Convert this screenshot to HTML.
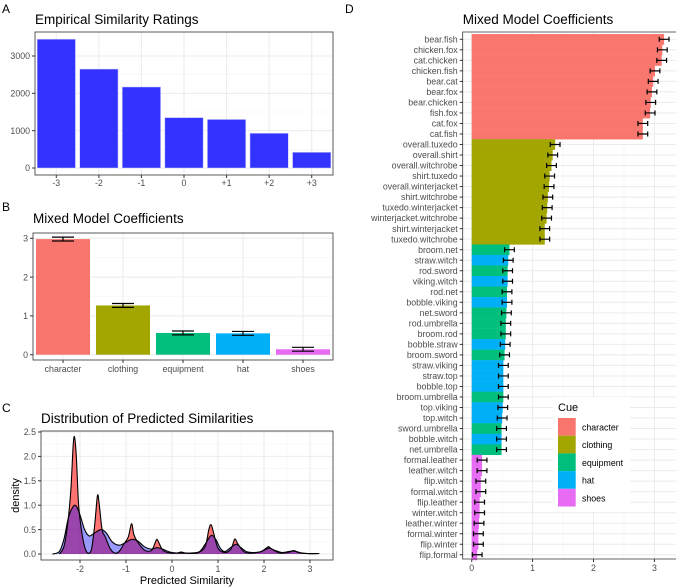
<!DOCTYPE html>
<html><head><meta charset="utf-8">
<style>
html,body{margin:0;padding:0;background:#fff;}
svg{display:block;font-family:"Liberation Sans",sans-serif;}
</style></head>
<body>
<svg id="fig" width="677" height="587" viewBox="0 0 677 587" xmlns="http://www.w3.org/2000/svg"></svg>
<script>
// ---- Panel A data ----
const aCategories = ["-3","-2","-1","0","+1","+2","+3"];
const aCounts = [3450, 2650, 2170, 1350, 1300, 930, 420];
const aTicks = [0, 1000, 2000, 3000];
// ---- Panel B data ----
const bCategories = ["character","clothing","equipment","hat","shoes"];
const bValues = [2.98, 1.27, 0.56, 0.55, 0.14];
const bErrors = [0.05, 0.05, 0.05, 0.05, 0.05];
const bTicks = [0, 1, 2, 3];
// ---- Panel C data ----
const cRedX = [-2.45,-2.35,-2.27,-2.2,-2.15,-2.12,-2.08,-2.03,-1.97,-1.9,-1.83,-1.75,-1.68,-1.62,-1.58,-1.52,-1.45,-1.35,-1.25,-1.15,-1.05,-0.95,-0.88,-0.83,-0.75,-0.6,-0.45,-0.37,-0.33,-0.28,-0.2,-0.05,0.1,0.2,0.3,0.55,0.72,0.8,0.85,0.9,1.0,1.15,1.28,1.35,1.38,1.45,1.6,1.9,2.05,2.1,2.17,2.35,2.55,2.65,2.75,2.95,3.2];
const cRedY = [0,0.15,0.6,1.3,2.2,2.4,2.0,1.0,0.5,0.15,0.02,0.1,0.6,1.2,1.0,0.5,0.35,0.12,0.02,0.05,0.2,0.35,0.62,0.4,0.25,0.08,0.07,0.22,0.3,0.22,0.08,0.02,0.02,0.04,0.02,0.02,0.15,0.5,0.6,0.45,0.12,0.03,0.1,0.28,0.3,0.18,0.03,0.04,0.12,0.15,0.1,0.02,0.04,0.07,0.03,0.01,0.01];
const cBlueX = [-2.6,-2.45,-2.35,-2.25,-2.15,-2.08,-2.0,-1.9,-1.8,-1.7,-1.6,-1.52,-1.42,-1.3,-1.15,-1.0,-0.88,-0.75,-0.6,-0.45,-0.33,-0.2,-0.05,0.1,0.2,0.4,0.6,0.72,0.85,0.95,1.05,1.15,1.3,1.4,1.5,1.65,1.9,2.05,2.12,2.25,2.4,2.6,2.7,2.9,3.2];
const cBlueY = [0,0.05,0.3,0.75,0.97,0.98,0.8,0.5,0.37,0.42,0.48,0.5,0.42,0.25,0.18,0.24,0.3,0.27,0.15,0.1,0.13,0.1,0.04,0.02,0.02,0.02,0.05,0.2,0.38,0.3,0.12,0.05,0.15,0.2,0.13,0.04,0.04,0.1,0.12,0.07,0.03,0.06,0.05,0.01,0.01];
const cXTicks = [-2,-1,0,1,2,3];
const cYTicks = [0,0.5,1,1.5,2,2.5];
const cYTickLabels = ["0.0","0.5","1.0","1.5","2.0","2.5"];
// ---- Panel D data ----
const dLabels = ["bear.fish","chicken.fox","cat.chicken","chicken.fish","bear.cat","bear.fox","bear.chicken","fish.fox","cat.fox","cat.fish",
"overall.tuxedo","overall.shirt","overall.witchrobe","shirt.tuxedo","overall.winterjacket","shirt.witchrobe","tuxedo.winterjacket","winterjacket.witchrobe","shirt.winterjacket","tuxedo.witchrobe",
"broom.net","straw.witch","rod.sword","viking.witch","rod.net","bobble.viking","net.sword","rod.umbrella","broom.rod","bobble.straw","broom.sword","straw.viking","straw.top","bobble.top","broom.umbrella","top.viking","top.witch","sword.umbrella","bobble.witch","net.umbrella",
"formal.leather","leather.witch","flip.witch","formal.witch","flip.leather","winter.witch","leather.winter","formal.winter","flip.winter","flip.formal"];
const dValues = [3.16,3.13,3.12,3.01,2.98,2.96,2.94,2.93,2.81,2.81,
1.37,1.33,1.31,1.28,1.27,1.25,1.24,1.23,1.20,1.20,
0.62,0.60,0.59,0.59,0.58,0.58,0.57,0.56,0.56,0.55,0.54,0.52,0.52,0.52,0.52,0.51,0.50,0.49,0.49,0.49,
0.17,0.17,0.15,0.15,0.13,0.13,0.12,0.11,0.11,0.09];
const dErrors = new Array(50).fill(0.08);
const dCues = ["character","character","character","character","character","character","character","character","character","character",
"clothing","clothing","clothing","clothing","clothing","clothing","clothing","clothing","clothing","clothing",
"equipment","hat","equipment","hat","equipment","hat","equipment","equipment","equipment","hat","equipment","hat","hat","hat","equipment","hat","hat","equipment","hat","equipment",
"shoes","shoes","shoes","shoes","shoes","shoes","shoes","shoes","shoes","shoes"];
const dTicks = [0,1,2,3];
const cueNames = ["character","clothing","equipment","hat","shoes"];
const cueColors = {character:"#F8766D",clothing:"#A3A500",equipment:"#00BF7D",hat:"#00B0F6",shoes:"#E76BF3"};

const NS="http://www.w3.org/2000/svg";
const svg=document.getElementById('fig');
function mk(tag,attrs,parent){const e=document.createElementNS(NS,tag);for(const k in attrs)e.setAttribute(k,attrs[k]);(parent||svg).appendChild(e);return e;}
function txt(s,x,y,attrs,parent){const e=mk('text',Object.assign({x:x,y:y},attrs),parent);e.textContent=s;return e;}
const AX="#4D4D4D", GRID="#EBEBEB", GRIDMIN="#F4F4F4";

// ========== Panel A ==========
{
const L=35,R=333,T=32,B=175, y0=168, yk=(168-56)/3000;
const ys=v=>y0-v*yk; const step=(R-L)/aCategories.length; const xs=i=>L+step*(i+0.5);
const g=mk('g',{});


const t0=txt('A',2,13,{'font-size':12,fill:'#000'},g);

const t1=txt('Empirical Similarity Ratings',35,24,{'font-size':13.5,fill:'#000'},g);

for(let v=500;v<3500;v+=1000){mk('line',{x1:L,x2:R,y1:ys(v),y2:ys(v),stroke:GRIDMIN,'stroke-width':0.6},g);}
aTicks.forEach(v=>{mk('line',{x1:L,x2:R,y1:ys(v),y2:ys(v),stroke:GRID,'stroke-width':1},g);
 const t=txt(String(v),L-5,ys(v)+3.2,{'font-size':8.8,fill:AX,'text-anchor':'end'},g);
 
 mk('line',{x1:L-3,x2:L,y1:ys(v),y2:ys(v),stroke:'#333'},g);});
aCategories.forEach((c,i)=>{mk('line',{x1:xs(i),x2:xs(i),y1:T,y2:B,stroke:GRID},g);});
aCategories.forEach((c,i)=>{
 const r=mk('rect',{x:xs(i)-step*0.45,y:ys(aCounts[i]),width:step*0.9,height:ys(0)-ys(aCounts[i]),fill:'#3333FF',stroke:'#ccccff','stroke-width':0.5},g);
 
 mk('line',{x1:xs(i),x2:xs(i),y1:B,y2:B+3,stroke:'#333'},g);
 const t=txt(c,xs(i),B+11,{'font-size':8.8,fill:AX,'text-anchor':'middle'},g);
 
});
mk('rect',{x:L,y:T,width:R-L,height:B-T,fill:'none',stroke:'#333','stroke-width':0.8},g);
}

// ========== Panel B ==========
{
const L=33,R=333,T=233,B=360, y0=354.7, yk=(354.7-238.3)/3;
const ys=v=>y0-v*yk; const step=(R-L)/bCategories.length; const xs=i=>L+step*(i+0.5);
const g=mk('g',{});


const t0=txt('B',2,211,{'font-size':12,fill:'#000'},g);

const t1=txt('Mixed Model Coefficients',33,223,{'font-size':13.5,fill:'#000'},g);

for(let v=0.5;v<3.1;v+=1){mk('line',{x1:L,x2:R,y1:ys(v),y2:ys(v),stroke:GRIDMIN,'stroke-width':0.6},g);}
bTicks.forEach(v=>{mk('line',{x1:L,x2:R,y1:ys(v),y2:ys(v),stroke:GRID},g);
 const t=txt(String(v),L-5,ys(v)+3.2,{'font-size':8.8,fill:AX,'text-anchor':'end'},g);
 
 mk('line',{x1:L-3,x2:L,y1:ys(v),y2:ys(v),stroke:'#333'},g);});
bCategories.forEach((c,i)=>{mk('line',{x1:xs(i),x2:xs(i),y1:T,y2:B,stroke:GRID},g);});
bCategories.forEach((c,i)=>{
 const r=mk('rect',{x:xs(i)-step*0.45,y:ys(bValues[i]),width:step*0.9,height:ys(0)-ys(bValues[i]),fill:cueColors[c]},g);
 
 const hi=ys(bValues[i]+bErrors[i]), lo=ys(bValues[i]-bErrors[i]), w=11;
 const eb=mk('path',{d:`M${xs(i)-w},${hi}H${xs(i)+w}M${xs(i)-w},${lo}H${xs(i)+w}M${xs(i)},${hi}V${lo}`,stroke:'#000','stroke-width':1.2,fill:'none'},g);
 
 mk('line',{x1:xs(i),x2:xs(i),y1:B,y2:B+3,stroke:'#333'},g);
 const t=txt(c,xs(i),B+12,{'font-size':8.8,fill:AX,'text-anchor':'middle'},g);
 
});
mk('rect',{x:L,y:T,width:R-L,height:B-T,fill:'none',stroke:'#333','stroke-width':0.8},g);
}

// ========== Panel C ==========
{
const L=41,R=333,T=431,B=560, y0=554, yk=(554-432)/2.5, x0=172, xk=46;
const ys=v=>y0-v*yk, xs=v=>x0+v*xk;
const g=mk('g',{});


const t0=txt('C',2,412,{'font-size':12,fill:'#000'},g);

const t1=txt('Distribution of Predicted Similarities',41,423,{'font-size':13.5,fill:'#000'},g);

for(let v=0.25;v<2.6;v+=0.5){mk('line',{x1:L,x2:R,y1:ys(v),y2:ys(v),stroke:GRIDMIN,'stroke-width':0.6},g);}
for(let v=-2.5;v<3.4;v+=1){mk('line',{x1:xs(v),x2:xs(v),y1:T,y2:B,stroke:GRIDMIN,'stroke-width':0.6},g);}
cYTicks.forEach((v,i)=>{mk('line',{x1:L,x2:R,y1:ys(v),y2:ys(v),stroke:GRID},g);
 mk('line',{x1:L-3,x2:L,y1:ys(v),y2:ys(v),stroke:'#333'},g);
 const t=txt(cYTickLabels[i],L-5,ys(v)+3.2,{'font-size':8.8,fill:AX,'text-anchor':'end'},g);
 });
cXTicks.forEach(v=>{mk('line',{x1:xs(v),x2:xs(v),y1:T,y2:B,stroke:GRID},g);
 mk('line',{x1:xs(v),x2:xs(v),y1:B,y2:B+3,stroke:'#333'},g);
 const t=txt(String(v),xs(v),B+12,{'font-size':8.8,fill:AX,'text-anchor':'middle'},g);
 });
function curve(X,Y){const P=X.map((x,i)=>[xs(x),ys(Y[i])]);let d=`M${P[0][0]},${P[0][1]}`;
 for(let i=0;i<P.length-1;i++){const p0=P[Math.max(0,i-1)],p1=P[i],p2=P[i+1],p3=P[Math.min(P.length-1,i+2)];
  const c1=[p1[0]+(p2[0]-p0[0])/6,Math.min(y0,p1[1]+(p2[1]-p0[1])/6)],c2=[p2[0]-(p3[0]-p1[0])/6,Math.min(y0,p2[1]-(p3[1]-p1[1])/6)];
  d+=`C${c1[0]},${c1[1]} ${c2[0]},${c2[1]} ${p2[0]},${p2[1]}`;}
 return {d:d,x1:P[0][0],x2:P[P.length-1][0]};}
const rc=curve(cRedX,cRedY), bc=curve(cBlueX,cBlueY);
const ra=mk('path',{d:rc.d+`L${rc.x2},${y0}L${rc.x1},${y0}Z`,fill:'rgba(255,0,0,0.55)',stroke:'none'},g);

const ba=mk('path',{d:bc.d+`L${bc.x2},${y0}L${bc.x1},${y0}Z`,fill:'rgba(0,0,255,0.4)',stroke:'none'},g);

const rl=mk('path',{d:rc.d,fill:'none',stroke:'#000','stroke-width':1.1},g);

const bl=mk('path',{d:bc.d,fill:'none',stroke:'#000','stroke-width':1.1},g);

mk('rect',{x:L,y:T,width:R-L,height:B-T,fill:'none',stroke:'#333','stroke-width':0.8},g);
const xt=txt('Predicted Similarity',(L+R)/2,584,{'font-size':11,fill:'#000','text-anchor':'middle'},g);

const yt=txt('density',0,0,{'font-size':11,fill:'#000','text-anchor':'middle',transform:`translate(19,${(T+B)/2}) rotate(-90)`},g);

}

// ========== Panel D ==========
{
const L=462.7,R=676,T=32,B=559, x0=471.7, xk=60.9, rowTop=39.3, rowStep=10.52;
const xs=v=>x0+v*xk, yr=i=>rowTop+i*rowStep;
const g=mk('g',{});


const t0=txt('D',345,13,{'font-size':12,fill:'#000'},g);

const t1=txt('Mixed Model Coefficients',538,24,{'font-size':13.5,fill:'#000','text-anchor':'middle'},g);

[0.5,1.5,2.5].forEach(v=>mk('line',{x1:xs(v),x2:xs(v),y1:T,y2:B,stroke:GRIDMIN,'stroke-width':0.6},g));
dTicks.forEach(v=>{mk('line',{x1:xs(v),x2:xs(v),y1:T,y2:B,stroke:GRID},g);
 mk('line',{x1:xs(v),x2:xs(v),y1:B,y2:B+3,stroke:'#333'},g);
 const t=txt(String(v),xs(v),B+12,{'font-size':8.8,fill:AX,'text-anchor':'middle'},g);
 });
dLabels.forEach((lab,i)=>{mk('line',{x1:L,x2:R,y1:yr(i),y2:yr(i),stroke:GRID},g);});
dLabels.forEach((lab,i)=>{
 const r=mk('rect',{x:xs(0),y:yr(i)-rowStep/2,width:xs(dValues[i])-xs(0),height:rowStep+0.2,fill:cueColors[dCues[i]]},g);
 
});
dLabels.forEach((lab,i)=>{
 const a=xs(dValues[i]-dErrors[i]),b=xs(dValues[i]+dErrors[i]),y=yr(i);
 const eb=mk('path',{d:`M${a},${y-2.5}V${y+2.5}M${b},${y-2.5}V${y+2.5}M${a},${y}H${b}`,stroke:'#000','stroke-width':1.2,fill:'none'},g);
 
 mk('line',{x1:L-3,x2:L,y1:y,y2:y,stroke:'#333'},g);
 const t=txt(lab,L-5,y+3.1,{'font-size':8.8,fill:AX,'text-anchor':'end'},g);
 
});
mk('path',{d:`M${R},${T}H${L}V${B}H${R}`,fill:'none',stroke:'#333','stroke-width':0.8},g);
// legend
const lg=mk('g',{},g);


mk('rect',{x:553,y:397,width:77,height:115,fill:'#fff'},lg);
const lt=txt('Cue',558,411,{'font-size':11,fill:'#000'},lg);

cueNames.forEach((c,i)=>{
 const y=418+i*17.7;
 const k=mk('rect',{x:558,y:y,width:17.7,height:17.7,fill:cueColors[c]},lg);
 
 const t=txt(c,582,y+12.5,{'font-size':8.8,fill:'#000'},lg);
 
});
}
</script>
</body></html>
